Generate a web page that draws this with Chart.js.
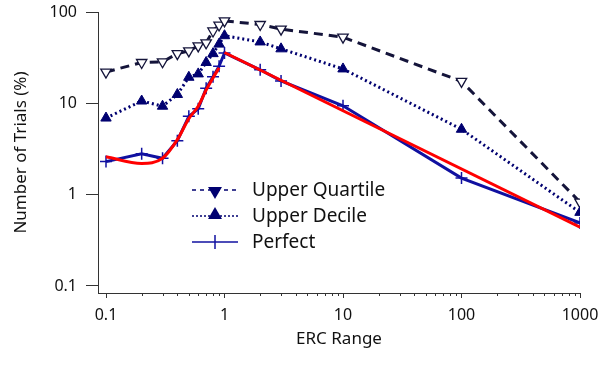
<!DOCTYPE html>
<html>
<head>
<meta charset="utf-8">
<script src="https://cdn.jsdelivr.net/npm/chart.js@4"></script>
<style>
  body { margin: 0; background: #fff; }
  canvas { display: block; }
</style>
</head>
<body>
<canvas id="chartErc" width="608" height="366"></canvas>
<script>
// ERC range categories (x) and the three measured series
const ercRange = [0.1, 0.2, 0.3, 0.4, 0.5, 0.6, 0.7, 0.8, 0.9, 1, 2, 3, 10, 100, 1000];
const upperQuartile = [22, 28, 28.5, 35, 37.5, 42.5, 46, 62, 72, 80, 73, 65, 53, 17.4, 0.83];
const upperDecile = [6.9, 10.6, 9.3, 12.5, 19.3, 21, 28, 35, 44.5, 55, 47, 39.5, 23.8, 5.2, 0.64];
const perfect = [2.3, 2.8, 2.5, 3.9, 7.2, 8.7, 14.6, 19.5, 25.5, 35.6, 23.3, 17.6, 9.4, 1.52, 0.49];

// red fit curve (two pieces)
const fitLowX = [0.1, 0.2, 0.3, 0.4, 0.5, 0.6, 0.7, 0.8, 0.9];
const fitLow = [2.6, 2.2, 2.5, 4.0, 6.8, 9.3, 14, 19, 24.5];
const fitHighX = [1, 1000];
const fitHigh = [36, 0.44];

// axis ticks
const xTicks = [0.1, 1, 10, 100, 1000];
const yTicks = [0.1, 1, 10, 100];

const FONT = 'Noto Sans';
const NAVY = '#000070';
const DARK = '#14143a';
const BLUE = '#1010a0';

function pts(xs, ys) {
    return xs.map((x, i) => ({ x: x, y: ys[i] }));
}

// small minor ticks on the x axis
const minorTicks = {
    id: 'minorTicks',
    afterDraw(chart) {
        const sx = chart.scales.x;
        const ctx = chart.ctx;
        ctx.save();
        ctx.strokeStyle = '#333';
        ctx.lineWidth = 1;
        for (let d = -1; d < 3; d++) {
            for (let k = 2; k <= 9; k++) {
                const px = Math.round(sx.getPixelForValue(k * Math.pow(10, d))) + 0.5;
                ctx.beginPath();
                ctx.moveTo(px, sx.top);
                ctx.lineTo(px, sx.top + 3);
                ctx.stroke();
            }
        }
        ctx.restore();
    }
};

function triangle(ctx, x, y, r, down) {
    const s = down ? -1 : 1;
    ctx.beginPath();
    ctx.moveTo(x, y - s * r);
    ctx.lineTo(x + r * 0.87, y + s * r * 0.5);
    ctx.lineTo(x - r * 0.87, y + s * r * 0.5);
    ctx.closePath();
}

// legend drawn inside the plot, line sample + marker
const plotLegend = {
    id: 'plotLegend',
    afterDatasetsDraw(chart) {
        const ctx = chart.ctx;
        const items = [
            { text: 'Upper Quartile', dash: [4, 4], color: NAVY, mark: 'down' },
            { text: 'Upper Decile', dash: [2, 2], color: NAVY, mark: 'up' },
            { text: 'Perfect', dash: [], color: BLUE, mark: 'cross' }
        ];
        const x0 = 192, x1 = 238, xm = 215, xt = 252;
        const rows = [190, 216, 242];
        ctx.save();
        items.forEach((it, i) => {
            const y = rows[i];
            ctx.strokeStyle = it.color;
            ctx.lineWidth = 1.5;
            ctx.setLineDash(it.dash);
            ctx.beginPath();
            ctx.moveTo(x0, y);
            ctx.lineTo(x1, y);
            ctx.stroke();
            ctx.setLineDash([]);
            if (it.mark === 'cross') {
                ctx.beginPath();
                ctx.moveTo(xm, y - 7);
                ctx.lineTo(xm, y + 7);
                ctx.stroke();
            } else {
                ctx.fillStyle = it.color;
                triangle(ctx, xm, it.mark === 'down' ? y + 1 : y - 1, 8, it.mark === 'down');
                ctx.fill();
            }
            ctx.fillStyle = '#111';
            ctx.font = '19px "' + FONT + '"';
            ctx.textBaseline = 'middle';
            ctx.fillText(it.text, xt, y + 1);
        });
        ctx.restore();
    }
};

const ctx = document.getElementById('chartErc').getContext('2d');
new Chart(ctx, {
    type: 'line',
    data: {
        datasets: [
            {
                label: 'fit high',
                data: pts(fitHighX, fitHigh),
                borderColor: '#ff0000',
                borderWidth: 3,
                pointRadius: 0,
                order: 0
            },
            {
                label: 'fit low',
                data: pts(fitLowX, fitLow),
                borderColor: '#ff0000',
                borderWidth: 3,
                pointRadius: 0,
                cubicInterpolationMode: 'monotone',
                order: 1
            },
            {
                label: 'Perfect',
                data: pts(ercRange, perfect),
                borderColor: BLUE,
                borderWidth: 3,
                pointStyle: 'cross',
                pointRadius: 6,
                pointBorderWidth: 1.5,
                pointBorderColor: BLUE,
                order: 2
            },
            {
                label: 'Upper Decile',
                data: pts(ercRange, upperDecile),
                borderColor: NAVY,
                borderWidth: 3,
                borderDash: [2, 3],
                pointStyle: 'triangle',
                pointRadius: 6,
                pointBackgroundColor: NAVY,
                pointBorderColor: NAVY,
                pointBorderWidth: 1,
                order: 3
            },
            {
                label: 'Upper Quartile',
                data: pts(ercRange, upperQuartile),
                borderColor: DARK,
                borderWidth: 3,
                borderDash: [9, 6],
                pointStyle: 'triangle',
                pointRotation: 180,
                pointRadius: 6,
                pointBackgroundColor: '#fff',
                pointBorderColor: DARK,
                pointBorderWidth: 1.3,
                order: 4
            }
        ]
    },
    options: {
        responsive: false,
        animation: false,
        layout: { padding: { top: 12, right: 28, left: 0, bottom: 0 } },
        plugins: {
            legend: { display: false },
            tooltip: { enabled: false }
        },
        scales: {
            x: {
                type: 'logarithmic',
                min: 0.0856,
                max: 1000,
                afterBuildTicks: (s) => { s.ticks = xTicks.map(v => ({ value: v })); },
                afterFit: (s) => {
                    s.height = 73;
                    s.paddingLeft = 0;
                    s.paddingRight = 0;
                },
                grid: { drawOnChartArea: false, tickLength: 5, color: '#333' },
                border: { color: '#333', width: 1 },
                ticks: {
                    color: '#111',
                    font: { family: FONT, size: 16, lineHeight: 1 },
                    padding: 9,
                    maxRotation: 0,
                    autoSkip: false,
                    callback: (v) => String(v)
                },
                title: {
                    display: true,
                    text: 'ERC Range',
                    color: '#111',
                    font: { family: FONT, size: 17 },
                    padding: { top: 0, bottom: 17 }
                }
            },
            y: {
                type: 'logarithmic',
                min: 0.0838,
                max: 100,
                afterBuildTicks: (s) => { s.ticks = yTicks.map(v => ({ value: v })); },
                afterFit: (s) => {
                    s.width = 98;
                    s.paddingTop = 0;
                    s.paddingBottom = 0;
                },
                grid: { drawOnChartArea: false, tickLength: 12, color: '#333' },
                border: { color: '#333', width: 1 },
                ticks: {
                    color: '#111',
                    font: { family: FONT, size: 16, lineHeight: 1 },
                    padding: 9,
                    autoSkip: false,
                    callback: (v) => String(v)
                },
                title: {
                    display: true,
                    text: 'Number of Trials (%)',
                    color: '#111',
                    font: { family: FONT, size: 17 },
                    padding: { top: 11, bottom: 0 }
                }
            }
        }
    },
    plugins: [minorTicks, plotLegend]
});
</script>
</body>
</html>
